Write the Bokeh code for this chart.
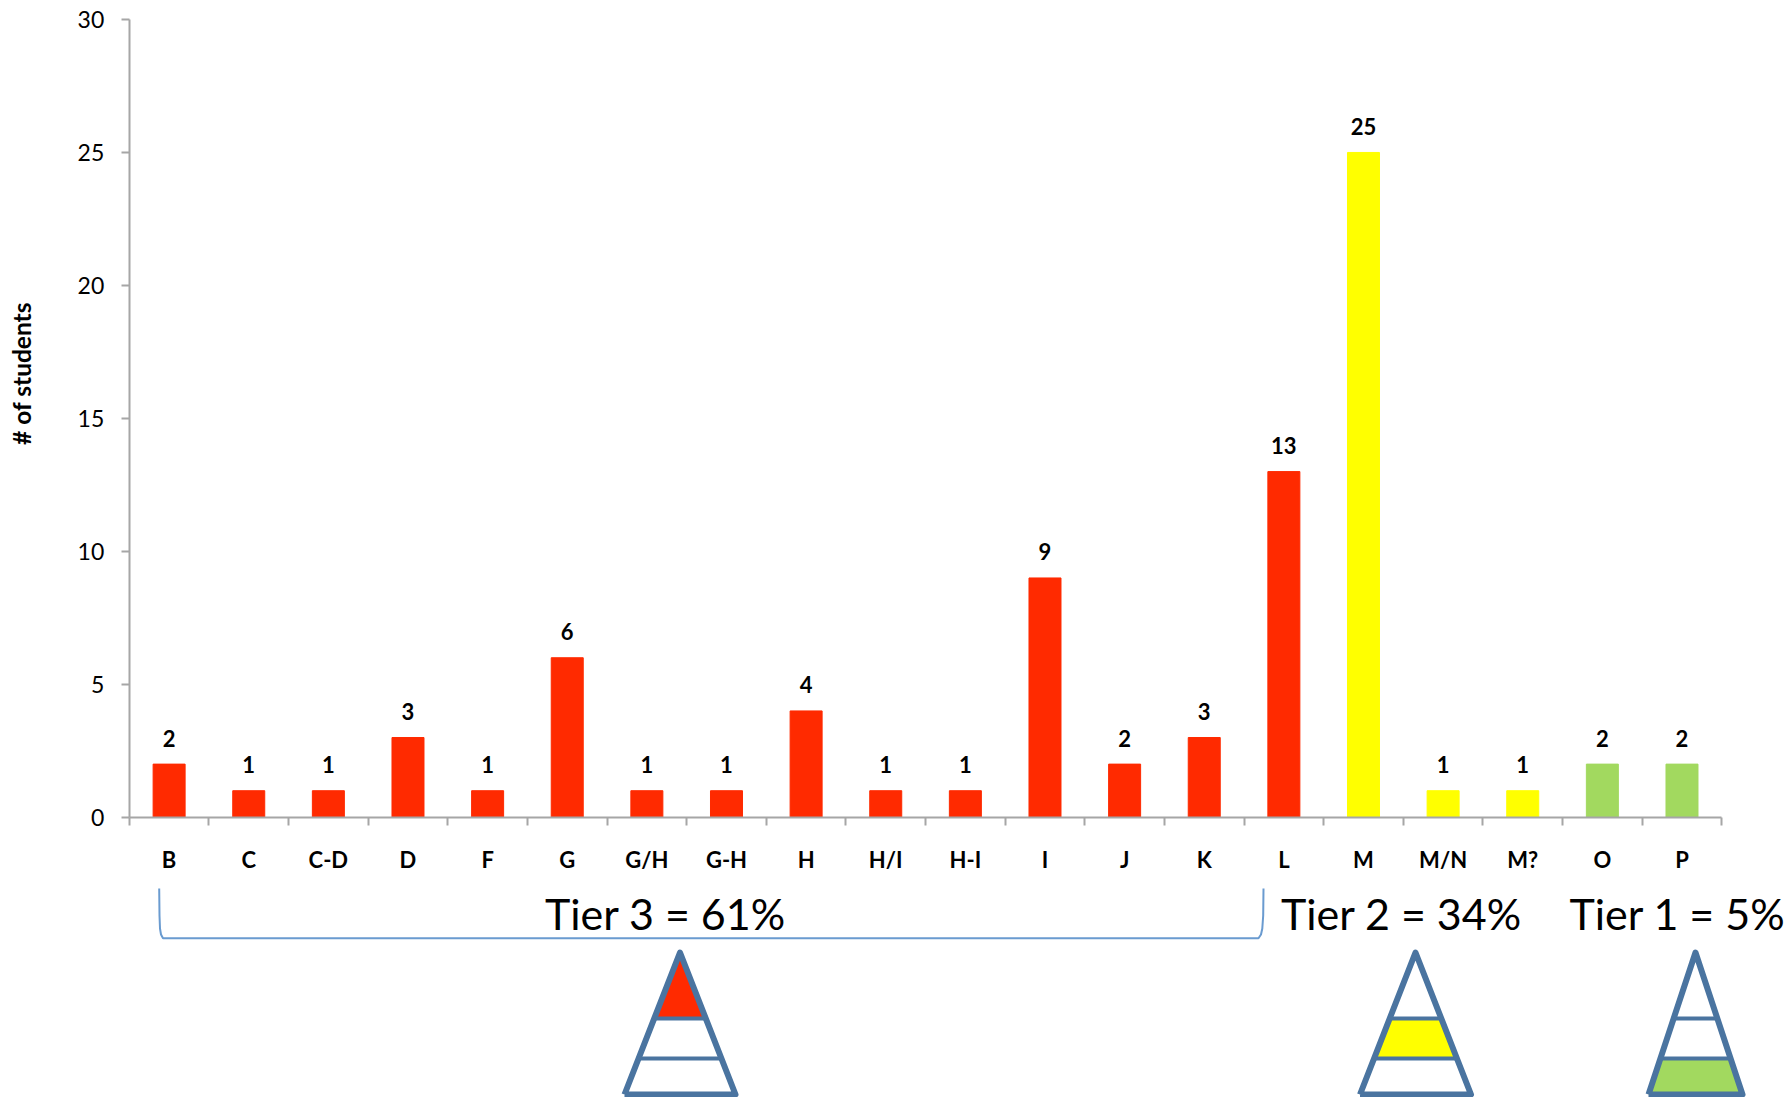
from bokeh.plotting import figure
from bokeh.models import FixedTicker, Range1d, ColumnDataSource
from bokeh.embed import file_html
from bokeh.resources import INLINE
from bokeh.core.properties import value
import math

categories = ["B","C","C-D","D","F","G","G/H","G-H","H","H/I","H-I","I","J","K","L","M","M/N","M?","O","P"]
students = [2,1,1,3,1,6,1,1,4,1,1,9,2,3,13,25,1,1,2,2]
tiers = [3]*15 + [2]*3 + [1]*2
tier_colors = {3:"#FF2A00", 2:"#FFFF00", 1:"#A2D95F"}
y_ticks = [0,5,10,15,20,25,30]
tier_labels = ["Tier 3 = 61%","Tier 2 = 34%","Tier 1 = 5%"]

FONT = "Lato"
W, H = 1790, 1097
AX_L, AX_R = 128.8, 1721.3     # page px of the category axis
Y0, Y30 = 816.8, 19.0          # page px of value 0 and value 30
ux = (AX_R-AX_L)/len(categories)
uy = (Y0-Y30)/30
def X(px): return (px-AX_L)/ux
def Y(py): return (Y0-py)/uy

p = figure(width=W, height=H, output_backend="svg", toolbar_location=None,
           x_range=Range1d(X(0), X(W)), y_range=Range1d(Y(H), Y(0)),
           min_border=0, min_border_left=0, min_border_right=0, min_border_top=0, min_border_bottom=0)
p.outline_line_color = None
p.grid.visible = False

centres = [i+0.5 for i in range(len(categories))]
src = ColumnDataSource(dict(x=centres, top=students, color=[tier_colors[t] for t in tiers],
                            label=[str(v) for v in students]))
p.vbar(x="x", top="top", bottom=0, width=32/ux, color="color", source=src)
p.text(x="x", y="top", text="label", source=src, text_font=value(FONT), text_font_style="bold",
       text_font_size="22px", text_align="center", text_baseline="alphabetic", y_offset=-26, text_color="#000000")

xa = p.xaxis[0]
xa.fixed_location = 0
xa.bounds = (0, len(categories))
xa.ticker = FixedTicker(ticks=centres, minor_ticks=list(range(len(categories)+1)))
xa.major_label_overrides = {c: n for c, n in zip(centres, categories)}
xa.major_tick_line_color = None
xa.major_tick_out = 0; xa.major_tick_in = 0
xa.minor_tick_out = 8; xa.minor_tick_in = 0
xa.minor_tick_line_color = "#A6A6A6"; xa.minor_tick_line_width = 2
xa.axis_line_color = "#A6A6A6"; xa.axis_line_width = 2
xa.major_label_standoff = 21
xa.major_label_text_font = FONT
xa.major_label_text_font_style = "bold"
xa.major_label_text_font_size = "22px"
xa.major_label_text_color = "#000000"

ya = p.yaxis[0]
ya.fixed_location = 0
ya.bounds = (0, 30)
ya.ticker = FixedTicker(ticks=y_ticks)
ya.minor_tick_line_color = None
ya.major_tick_out = 8; ya.major_tick_in = 0
ya.major_tick_line_color = "#A6A6A6"; ya.major_tick_line_width = 2
ya.axis_line_color = "#A6A6A6"; ya.axis_line_width = 2
ya.major_label_standoff = 17
ya.major_label_text_font = FONT
ya.major_label_text_font_size = "23px"
ya.major_label_text_color = "#000000"

p.text(x=[X(21)], y=[Y(373)], text=["# of students"], angle=math.pi/2, text_font=value(FONT),
       text_font_style="bold", text_font_size="24.5px", text_align="center", text_baseline="middle", text_color="#000000")

# tier captions
p.text(x=[X(665), X(1401), X(1677)], y=[Y(913)]*3, text=tier_labels, text_font=value(FONT),
       text_font_size="43px", text_align="center", text_baseline="alphabetic", text_color="#000000")

# bracket under Tier 3
bx = [158.7,159,159.5,160.5,162.5, 1258,1260.5,1261.8,1262.7,1263]
by = [888,915,928,934,937.7, 937.7,934,928,915,888]
p.line([X(v) for v in bx], [Y(v) for v in by], line_color="#6A9BD0", line_width=2)

# pyramids
BLUE = "#4A74A0"
TOP, BASE, L1, L2 = 952.0, 1094.0, 1018.0, 1058.0
def pyramid(cx, hw, band, color):
    def half(y): return (y-TOP)/(BASE-TOP)*hw
    y0, y1 = band
    p.patch([X(cx-half(y0)), X(cx+half(y0)), X(cx+half(y1)), X(cx-half(y1))],
            [Y(y0), Y(y0), Y(y1), Y(y1)], fill_color=color, line_color=None)
    for y in (L1, L2):
        p.line([X(cx-half(y)), X(cx+half(y))], [Y(y), Y(y)], line_color=BLUE, line_width=4)
    p.line([X(cx-hw), X(cx), X(cx+hw), X(cx-hw)], [Y(BASE), Y(TOP), Y(BASE), Y(BASE)],
           line_color=BLUE, line_width=6, line_join="round")

pyramid(679.5, 55.5, (TOP, L1), tier_colors[3])
pyramid(1415.0, 55.5, (L1, L2), tier_colors[2])
pyramid(1695.0, 47.0, (L2, BASE), tier_colors[1])

open("out.html", "w").write(file_html(p, INLINE))
